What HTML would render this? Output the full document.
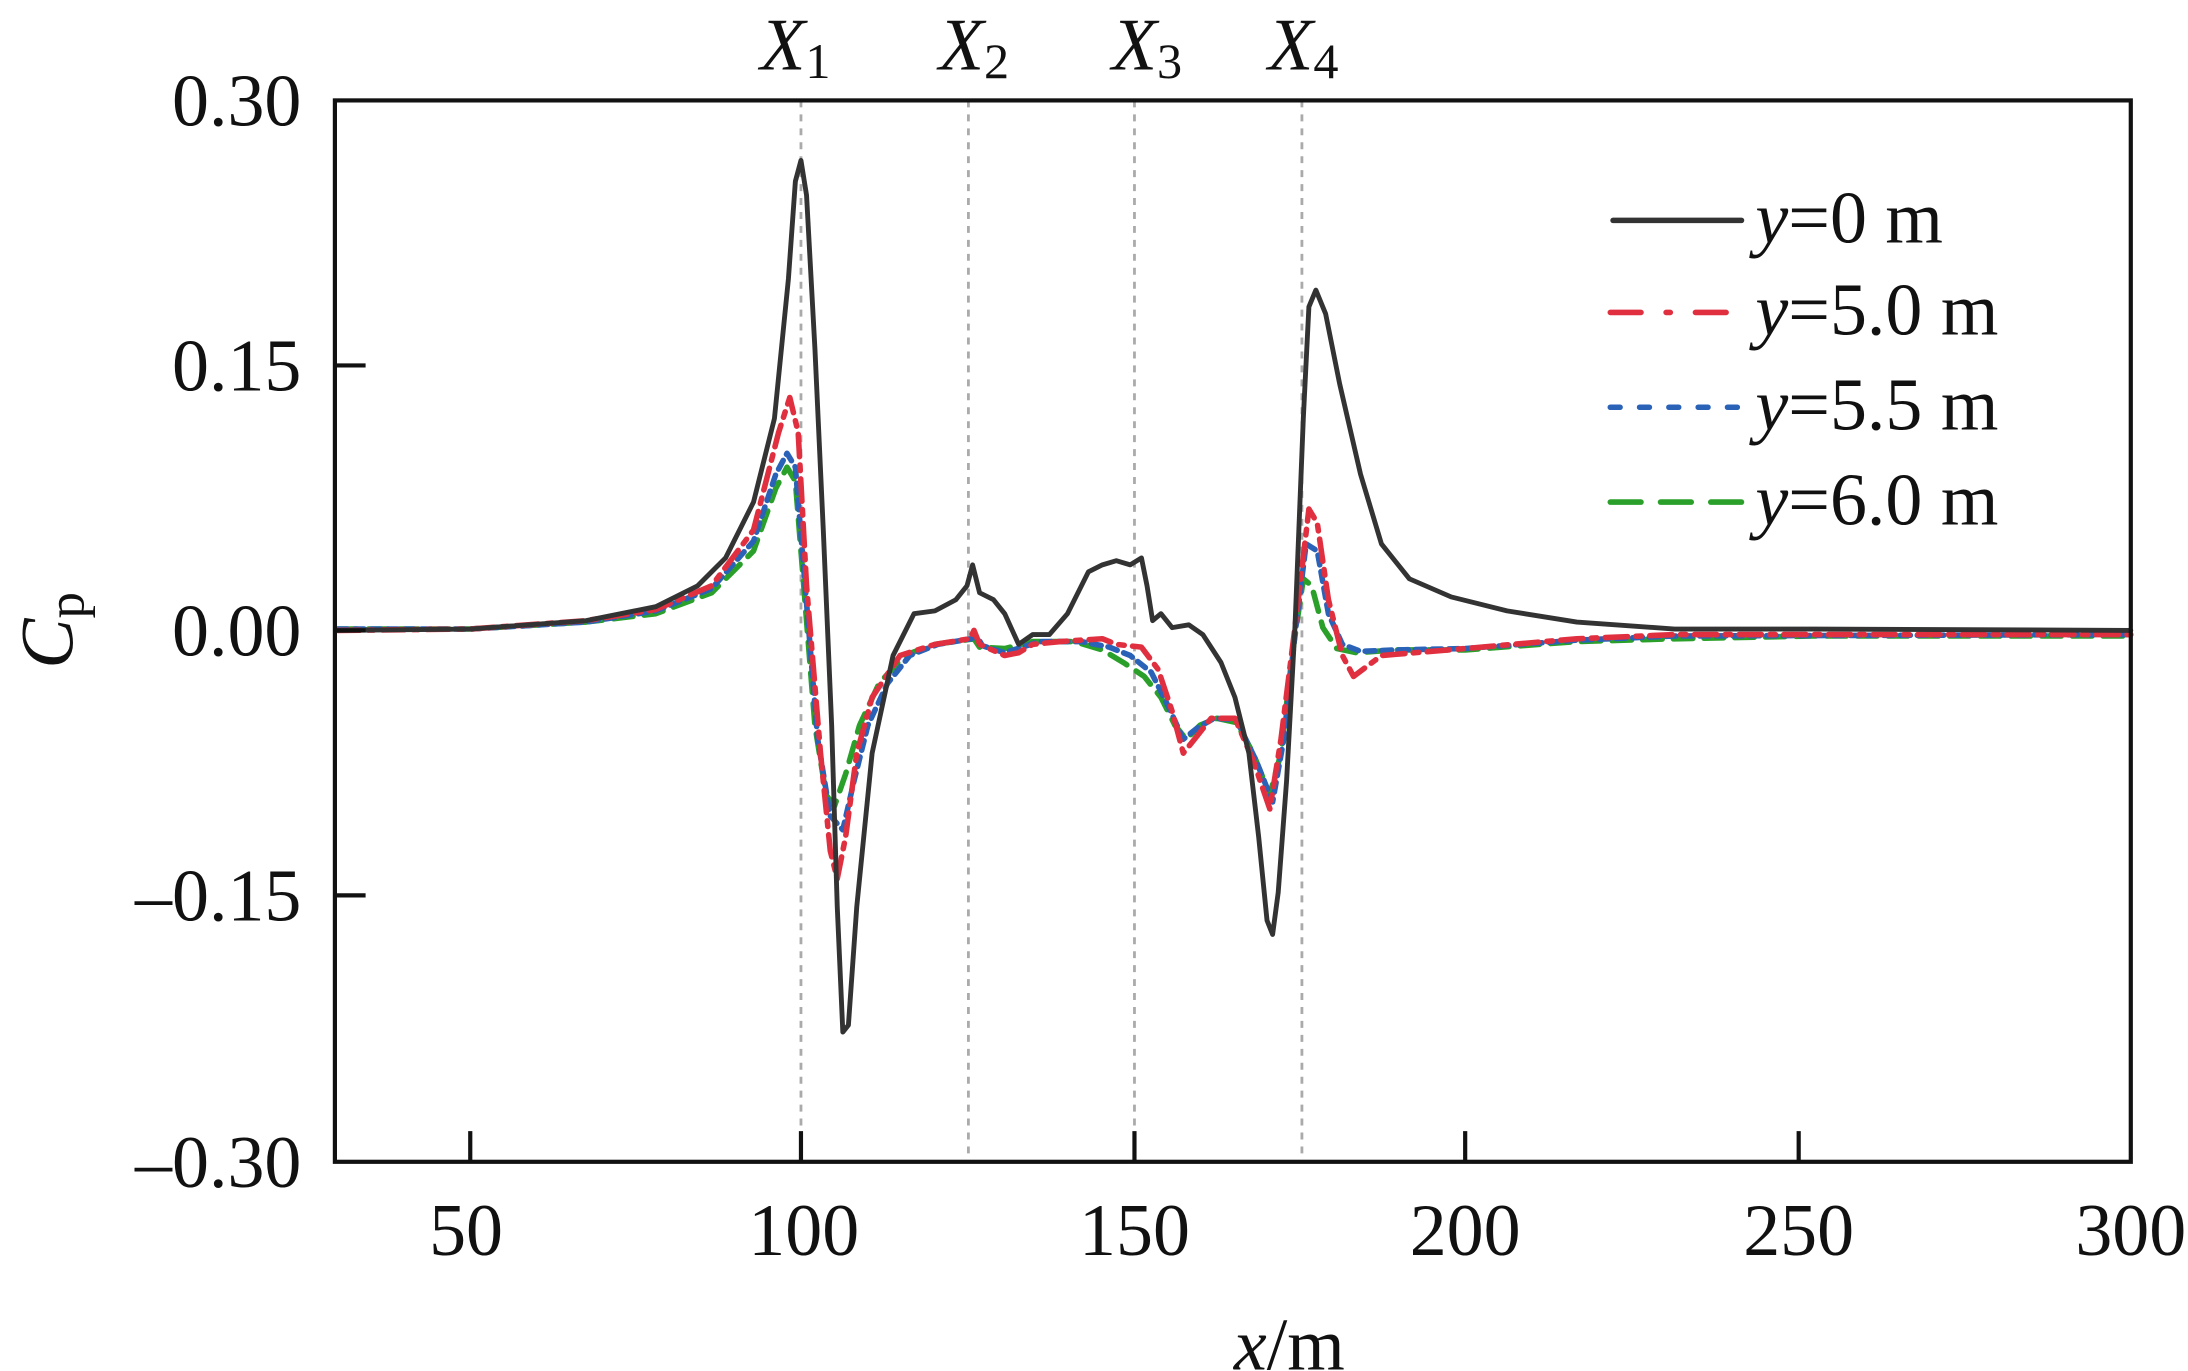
<!DOCTYPE html>
<html><head><meta charset="utf-8"><style>html,body{margin:0;padding:0;background:#fff}svg{display:block}</style></head>
<body>
<svg width="2188" height="1371" viewBox="0 0 1568 983" preserveAspectRatio="none" xmlns="http://www.w3.org/2000/svg" font-family="Liberation Serif, serif">
<g stroke="#aaa" stroke-width="2" stroke-dasharray="5,5">
<line x1="574" y1="72" x2="574" y2="833"/><line x1="694" y1="72" x2="694" y2="833"/>
<line x1="813" y1="72" x2="813" y2="833"/><line x1="933" y1="72" x2="933" y2="833"/>
</g>
<g fill="none" stroke-linejoin="round" stroke-linecap="round">
<polyline stroke="#2aa02a" stroke-width="4" stroke-dasharray="14,8" points="242,451 337,451 420,446 470,440 510,425 540,395 556,350 564,335 570,345 576,420 584,520 592,570 598,578 606,555 616,520 630,490 648,470 670,462 698,458 702,464 720,465 740,460 770,460 790,466 805,475 820,485 832,500 842,520 850,530 860,520 872,515 886,518 898,540 910,570 918,540 926,470 934,415 940,420 948,450 958,465 972,468 1000,466 1050,466 1130,460 1200,458 1300,456 1527,456"/>
<polyline stroke="#2a62b8" stroke-width="4" stroke-dasharray="7,5" points="242,451 337,451 420,446 470,438 510,422 540,388 556,340 564,325 570,335 577,420 586,530 595,585 604,595 612,560 622,520 636,490 652,470 672,462 696,458 700,456 704,463 720,468 745,460 775,460 795,464 810,470 825,482 838,508 848,530 858,522 870,515 886,516 900,545 912,575 920,530 928,455 936,390 944,395 952,440 962,462 975,467 1000,466 1050,465 1130,459 1200,456 1527,455"/>
<polyline stroke="#e03040" stroke-width="4" stroke-dasharray="16,6,4,6" points="242,452 337,451 420,445 470,437 510,420 540,380 558,310 566,285 572,310 578,420 588,540 595,610 600,630 606,600 614,540 625,500 645,470 670,462 695,458 698,452 702,462 720,470 730,468 740,462 760,460 790,458 800,462 818,464 830,480 840,510 848,540 856,530 868,515 885,515 898,545 910,580 918,530 928,450 938,365 944,375 952,430 962,470 970,485 990,470 1050,465 1130,458 1200,455 1527,455"/>
<polyline stroke="#333" stroke-width="3.5" points="242,452 337,451 420,445 470,435 500,420 520,400 540,360 555,300 565,200 570,130 574,115 578,140 584,250 590,380 596,520 600,650 604,740 608,735 614,650 625,540 640,470 655,440 670,438 685,430 693,420 697,405 702,425 712,430 720,440 730,462 740,455 752,455 765,440 780,410 790,405 800,402 810,405 818,400 822,420 826,445 832,440 840,450 852,448 862,455 875,475 885,500 895,540 902,600 908,660 912,670 916,640 922,560 928,450 934,300 938,220 943,208 950,225 960,275 975,340 990,390 1010,415 1040,428 1080,438 1130,446 1200,451 1300,451 1527,452"/>
</g>
<rect x="240" y="72" width="1287" height="761" fill="none" stroke="#111" stroke-width="3"/>
<g stroke="#111" stroke-width="3">
<line x1="240" y1="262" x2="262" y2="262"/><line x1="240" y1="452" x2="262" y2="452"/><line x1="240" y1="642" x2="262" y2="642"/>
<line x1="337" y1="833" x2="337" y2="811"/><line x1="574" y1="833" x2="574" y2="811"/><line x1="813" y1="833" x2="813" y2="811"/><line x1="1050" y1="833" x2="1050" y2="811"/><line x1="1289" y1="833" x2="1289" y2="811"/>
</g>
<g font-size="53" fill="#111" text-anchor="end">
<text x="216" y="90">0.30</text><text x="216" y="280">0.15</text><text x="216" y="470">0.00</text><text x="216" y="660">–0.15</text><text x="216" y="851">–0.30</text>
</g>
<g font-size="53" fill="#111" text-anchor="middle">
<text x="334" y="900">50</text><text x="576" y="900">100</text><text x="813" y="900">150</text><text x="1050" y="900">200</text><text x="1289" y="900">250</text><text x="1527" y="900">300</text>
<text x="924" y="982"><tspan font-style="italic">x</tspan>/m</text>
<text x="570" y="50"><tspan font-style="italic">X</tspan><tspan font-size="36" dy="6">1</tspan></text>
<text x="698" y="50"><tspan font-style="italic">X</tspan><tspan font-size="36" dy="6">2</tspan></text>
<text x="822" y="50"><tspan font-style="italic">X</tspan><tspan font-size="36" dy="6">3</tspan></text>
<text x="934" y="50"><tspan font-style="italic">X</tspan><tspan font-size="36" dy="6">4</tspan></text>
</g>
<text transform="translate(52,452) rotate(-90)" font-size="54" fill="#111" text-anchor="middle"><tspan font-style="italic">C</tspan><tspan font-size="38" dy="8">p</tspan></text>
<g fill="none" stroke-width="4" stroke-linecap="round">
<line x1="1156" y1="158" x2="1248" y2="158" stroke="#333"/>
<line x1="1154" y1="224" x2="1248" y2="224" stroke="#e03040" stroke-dasharray="22,18,3,18"/>
<line x1="1154" y1="292" x2="1250" y2="292" stroke="#2a62b8" stroke-dasharray="7,14"/>
<line x1="1154" y1="360" x2="1250" y2="360" stroke="#2aa02a" stroke-dasharray="22,14"/>
</g>
<g font-size="53" fill="#111">
<text x="1258" y="174"><tspan font-style="italic">y</tspan>=0 m</text>
<text x="1258" y="240"><tspan font-style="italic">y</tspan>=5.0 m</text>
<text x="1258" y="308"><tspan font-style="italic">y</tspan>=5.5 m</text>
<text x="1258" y="376"><tspan font-style="italic">y</tspan>=6.0 m</text>
</g>
</svg>
</body></html>
